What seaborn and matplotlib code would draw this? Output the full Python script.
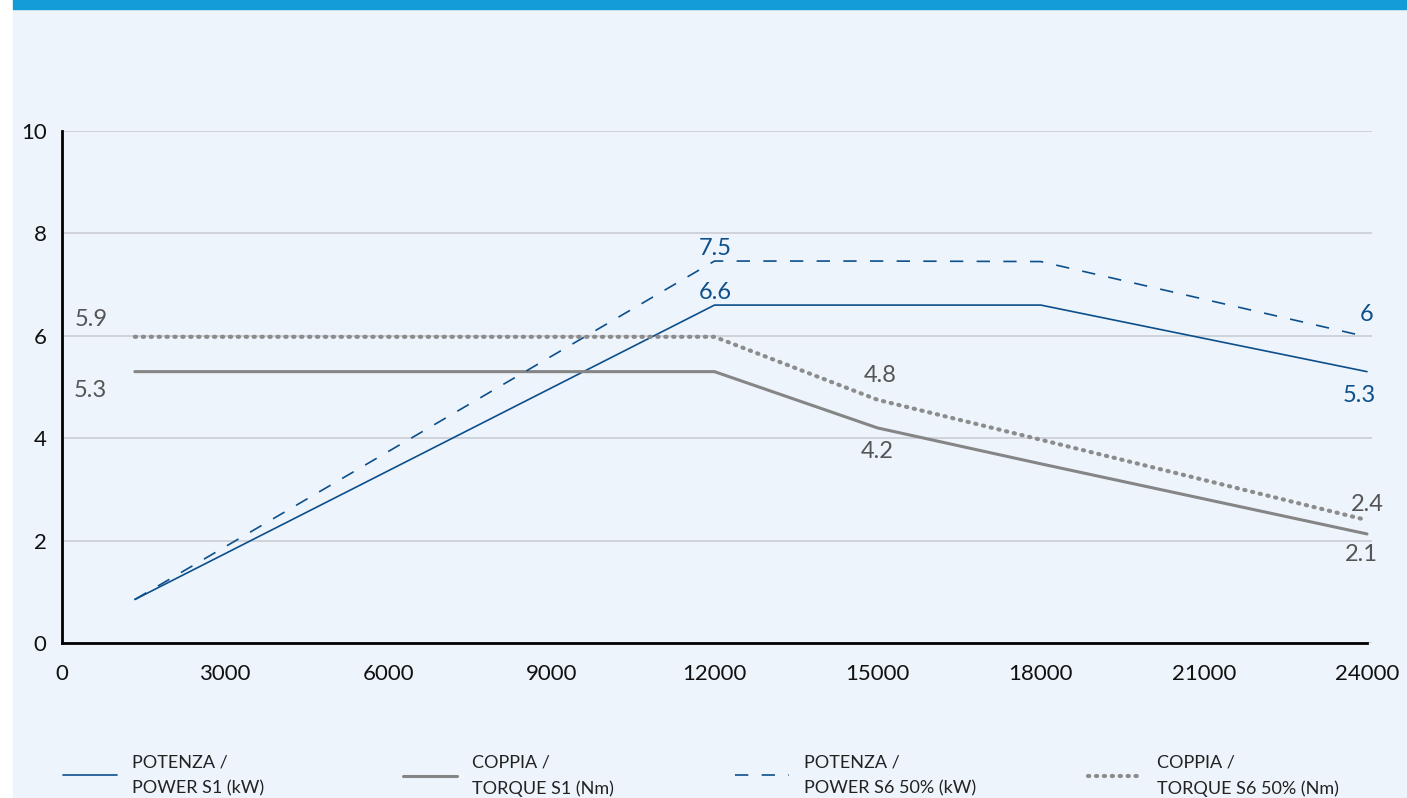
import numpy as np
import pandas as pd
import matplotlib
matplotlib.use("Agg")
import matplotlib.pyplot as plt
import seaborn as sns

# dati
giri = [1340, 12000, 15000, 18000, 24000]
potenza_s1 = [0.85, 6.6, 6.6, 6.6, 5.3]
coppia_s1 = [5.3, 5.3, 4.2, 3.5, 2.13]
potenza_s6 = [0.85, 7.46, 7.46, 7.45, 5.98]
coppia_s6 = [5.98, 5.98, 4.75, 3.97, 2.4]

etichette = ["POTENZA /\nPOWER S1 (kW)", "COPPIA /\nTORQUE S1 (Nm)",
             "POTENZA /\nPOWER S6 50% (kW)", "COPPIA /\nTORQUE S6 50% (Nm)"]
x_ticks = [0, 3000, 6000, 9000, 12000, 15000, 18000, 21000, 24000]
y_ticks = [0, 2, 4, 6, 8, 10]

# etichette dei valori: (testo, x, y, colore)
BLU = "#0d4f8b"
GRIGIO = "#858585"
GRIGIO_TXT = "#555555"
SFONDO = "#edf4fc"
valori = [("5.9", 533, 6.31, GRIGIO_TXT), ("5.3", 515, 4.94, GRIGIO_TXT),
          ("7.5", 12010, 7.71, BLU), ("6.6", 12010, 6.84, BLU),
          ("4.8", 15040, 5.23, GRIGIO_TXT), ("4.2", 14990, 3.75, GRIGIO_TXT),
          ("6", 24000, 6.41, BLU), ("5.3", 23850, 4.84, BLU),
          ("2.4", 24000, 2.70, GRIGIO_TXT), ("2.1", 23890, 1.72, GRIGIO_TXT)]

sns.set_style("white")
plt.rcParams['font.family'] = ['Lato', 'DejaVu Sans']

fig = plt.figure(figsize=(14.07, 7.98), dpi=100)
fig.patch.set_facecolor("white")
# pannello azzurro + barra in alto
fig.patches.append(plt.Rectangle((13 / 1407, 0), 1, 1, transform=fig.transFigure,
                                 color=SFONDO, zorder=-2))
fig.patches.append(plt.Rectangle((13 / 1407, 1 - 9 / 798), 1, 9 / 798,
                                 transform=fig.transFigure, color="#139cd8", zorder=-1))

ax = fig.add_axes([62 / 1407, 1 - 643 / 798, 1310 / 1407, 512 / 798])
ax.set_facecolor("none")

df = pd.DataFrame({"giri": giri, "p1": potenza_s1, "c1": coppia_s1,
                   "p6": potenza_s6, "c6": coppia_s6})

sns.lineplot(data=df, x="giri", y="p1", ax=ax, color=BLU, lw=1.2, label=etichette[0])
sns.lineplot(data=df, x="giri", y="c1", ax=ax, color=GRIGIO, lw=2.2, label=etichette[1])
sns.lineplot(data=df, x="giri", y="p6", ax=ax, color=BLU, lw=1.2,
             linestyle=(0, (8, 8)), label=etichette[2])
sns.lineplot(data=df, x="giri", y="c6", ax=ax, color="#8c8c8c", lw=3,
             linestyle=(0, (0.3, 1.6)), label=etichette[3])
ax.lines[-1].set_dash_capstyle("round")

ax.set_xlim(0, 24092)
ax.set_ylim(0, 10)
ax.set_xticks(x_ticks)
ax.set_yticks(y_ticks)
ax.set_xlabel("")
ax.set_ylabel("")
ax.grid(axis="y", color="#cdd0d6", lw=1.3)
ax.set_axisbelow(True)
for s in ["top", "right"]:
    ax.spines[s].set_visible(False)
for s in ["left", "bottom"]:
    ax.spines[s].set_color("black")
    ax.spines[s].set_linewidth(2)
ax.spines["bottom"].set_bounds(0, 24000)
ax.tick_params(axis="x", length=6, width=1.5, color="black", labelsize=16, pad=9,
               labelcolor="#111111")
ax.tick_params(axis="y", length=0, labelsize=16, pad=11, labelcolor="#111111")

for testo, vx, vy, col in valori:
    ax.text(vx, vy, testo, color=col, fontsize=17, ha="center", va="center")

# legenda in basso su una riga
ax.get_legend().remove()
handles, labels = ax.get_legend_handles_labels()
pos_x = [63, 403, 735, 1088]
for h, lab, px in zip(handles, labels, pos_x):
    leg = fig.legend([h], [lab], loc="upper left",
                     bbox_to_anchor=(px / 1407, 1 - 754 / 798),
                     frameon=False, fontsize=13, handlelength=3.0,
                     handletextpad=0.8, borderaxespad=0, borderpad=0)
    for t in leg.get_texts():
        t.set_linespacing(1.75)
        t.set_color("#222222")

fig.savefig("out.png", dpi=100, facecolor=fig.get_facecolor())
